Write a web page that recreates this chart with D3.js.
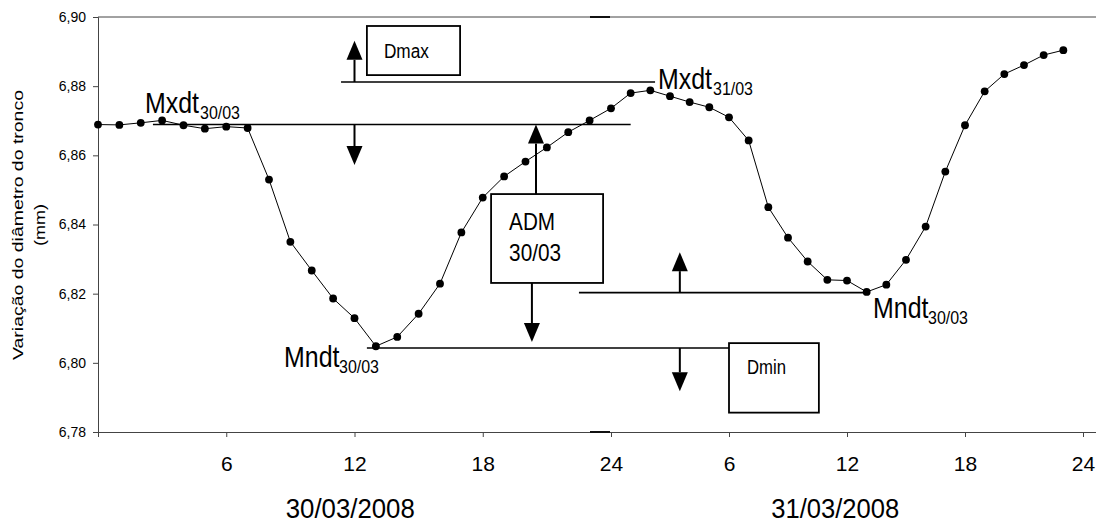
<!DOCTYPE html>
<html>
<head>
<meta charset="utf-8">
<script src="https://cdn.jsdelivr.net/npm/d3@7"></script>
<style>
  body { margin: 0; background: #fff; }
  text { font-family: "Liberation Sans", Arial, sans-serif; fill: #000; }
</style>
</head>
<body>
<svg id="chart" width="1096" height="523"></svg>
<script>
// Hourly trunk diameter readings (mm), two days
const day1 = [6.8689, 6.8688, 6.8694, 6.8701, 6.8687, 6.8677, 6.8683, 6.8679,
  6.8530, 6.8350, 6.8267, 6.8186, 6.8129, 6.8048, 6.8075, 6.8142, 6.8229,
  6.8377, 6.8478, 6.8539, 6.8582, 6.8623, 6.8667, 6.8701];
const day2 = [6.8736, 6.8780, 6.8788, 6.8771, 6.8754, 6.8739, 6.8710, 6.8643,
  6.8450, 6.8362, 6.8293, 6.8240, 6.8238, 6.8205, 6.8226, 6.8298, 6.8394,
  6.8553, 6.8687, 6.8785, 6.8835, 6.8861, 6.8890, 6.8904];
const dayLabels = ['30/03/2008', '31/03/2008'];
const hourTicks = [0, 6, 12, 18, 24, 30, 36, 42, 48];
const yTicks = [6.78, 6.80, 6.82, 6.84, 6.86, 6.88, 6.90];

// series as continuous hours (day 2 starts at hour 24)
const data = day1.map((v, i) => ({ h: i, v }))
  .concat(day2.map((v, i) => ({ h: 24 + i, v })));

const svg = d3.select('#chart');

// each day was drawn with its own width, so the scale is piecewise
const x = d3.scaleLinear().domain([0, 24, 48]).range([98, 611, 1083]);
const y = d3.scaleLinear().domain([6.78, 6.90]).range([432, 17]);

const fmt = d3.formatLocale({ decimal: ',', thousands: '.', grouping: [3], currency: ['', ''] }).format('.2f');

// frame
svg.append('line')
  .attr('x1', 98).attr('x2', 1096).attr('y1', y(6.90)).attr('y2', y(6.90))
  .style('stroke', '#444').style('stroke-width', 1);
svg.append('line')
  .attr('x1', 590).attr('x2', 610).attr('y1', y(6.90)).attr('y2', y(6.90))
  .style('stroke', '#111').style('stroke-width', 2);

const yAxis = svg.append('g')
  .attr('transform', 'translate(98,0)')
  .call(d3.axisLeft(y).tickValues(yTicks).tickFormat(fmt).tickSize(5).tickPadding(7));
yAxis.selectAll('text').style('font-size', '14px');

const xAxis = svg.append('g')
  .attr('transform', `translate(0,${y(6.78)})`)
  .call(d3.axisBottom(x).tickValues(hourTicks)
    .tickFormat(h => h === 0 ? '' : (h > 24 ? h - 24 : h))
    .tickSize(5).tickPadding(19));
xAxis.selectAll('text').style('font-size', '21px');
xAxis.select('.domain').attr('d', `M98,0.5H1096`);
svg.selectAll('.domain, .tick line').style('stroke', '#444');
svg.append('line')
  .attr('x1', 590).attr('x2', 610).attr('y1', y(6.78)).attr('y2', y(6.78))
  .style('stroke', '#111').style('stroke-width', 2);

// helper: text squeezed to a measured width
const addText = (str, px, py, size, width, anchor = 'start') => {
  const t = svg.append('text')
    .attr('x', px).attr('y', py)
    .attr('text-anchor', anchor)
    .style('font-size', `${size}px`)
    .text(str);
  if (width) t.attr('textLength', width).attr('lengthAdjust', 'spacingAndGlyphs');
  return t;
};

// day labels under the axis
addText(dayLabels[0], x(11.8), 518, 28, 129, 'middle');
addText(dayLabels[1], x(35.4), 518, 28, 128, 'middle');

// y axis title
const yt = svg.append('g').attr('transform', 'translate(23,225) rotate(-90)');
yt.append('text').attr('text-anchor', 'middle').style('font-size', '14px')
  .attr('textLength', 270).attr('lengthAdjust', 'spacingAndGlyphs')
  .text('Variação do diâmetro do tronco');
yt.append('text').attr('text-anchor', 'middle').attr('y', 22).style('font-size', '14px')
  .attr('textLength', 42).attr('lengthAdjust', 'spacingAndGlyphs')
  .text('(mm)');

// annotation lines (hours, mm)
const hLines = [
  { h1: 11.37, h2: 26.24, v: 6.8812 },
  { h1: 2.57, h2: 25.0, v: 6.8689 },
  { h1: 12.58, h2: 30.05, v: 6.8043 },
  { h1: 22.5, h2: 36.97, v: 6.8203 },
];
svg.selectAll('.hline').data(hLines).join('line')
  .attr('class', 'hline')
  .attr('x1', d => x(d.h1)).attr('x2', d => x(d.h2))
  .attr('y1', d => y(d.v)).attr('y2', d => y(d.v))
  .style('stroke', '#000').style('stroke-width', 1.6);

// boxes
const boxes = [
  { h1: 12.58, h2: 16.94, v1: 6.8974, v2: 6.8832 },
  { h1: 18.39, h2: 23.63, v1: 6.8488, v2: 6.8231 },
  { h1: 30.0, h2: 34.57, v1: 6.8057, v2: 6.7856 },
];
svg.selectAll('.box').data(boxes).join('rect')
  .attr('class', 'box')
  .attr('x', d => x(d.h1)).attr('y', d => y(d.v1))
  .attr('width', d => x(d.h2) - x(d.h1)).attr('height', d => y(d.v2) - y(d.v1))
  .style('fill', '#fff').style('stroke', '#000').style('stroke-width', 1.8);

// arrows: from v0 to tip vt
const arrows = [
  { h: 12, v0: 6.8812, vt: 6.8931 },
  { h: 12, v0: 6.8689, vt: 6.8572 },
  { h: 20.49, v0: 6.8488, vt: 6.8689 },
  { h: 20.3, v0: 6.8231, vt: 6.8060 },
  { h: 27.5, v0: 6.8043, vt: 6.7918 },
  { h: 27.5, v0: 6.8203, vt: 6.8320 },
];
const headH = 19;
const headW = 8;
arrows.forEach(a => {
  const ax = x(a.h);
  const y0 = y(a.v0);
  const yt = y(a.vt);
  const dir = yt < y0 ? 1 : -1; // 1 = pointing up
  svg.append('line')
    .attr('x1', ax).attr('x2', ax).attr('y1', y0).attr('y2', yt + dir * headH)
    .style('stroke', '#000').style('stroke-width', 2);
  svg.append('path')
    .attr('d', `M${ax},${yt}L${ax - headW},${yt + dir * headH}L${ax + headW},${yt + dir * headH}Z`)
    .style('fill', '#000');
});

// series line and dots
svg.append('path')
  .datum(data)
  .attr('d', d3.line().x(d => x(d.h)).y(d => y(d.v)))
  .style('fill', 'none').style('stroke', '#000').style('stroke-width', 1);
svg.selectAll('.dot').data(data).join('circle')
  .attr('class', 'dot')
  .attr('cx', d => x(d.h)).attr('cy', d => y(d.v))
  .attr('r', 3.9)
  .style('fill', '#000');

// box texts
addText('Dmax', x(12.58) + 17, 58, 19.5, 45);
addText('ADM', x(18.39) + 18, 230, 24.5, 46);
addText('30/03', x(18.39) + 18, 261, 24.5, 52);
addText('Dmin', x(30.0) + 18, 374, 20, 39);

// labels with subscripts; squeezed with a transform so their boxes stay true
const labels = [
  { main: 'Mxdt', sub: '30/03', px: 145, py: 113 },
  { main: 'Mxdt', sub: '31/03', px: 658, py: 89 },
  { main: 'Mndt', sub: '30/03', px: 284, py: 367 },
  { main: 'Mndt', sub: '30/03', px: 873, py: 318 },
];
const squeeze = 0.86;
labels.forEach(l => {
  const g = svg.append('g').attr('transform', `translate(${l.px},${l.py}) scale(${squeeze},1)`);
  g.append('text').style('font-size', '29px').text(l.main);
  g.append('text')
    .attr('x', 55 / squeeze).attr('y', 6)
    .style('font-size', '18.6px')
    .text(l.sub);
});
</script>
</body>
</html>
